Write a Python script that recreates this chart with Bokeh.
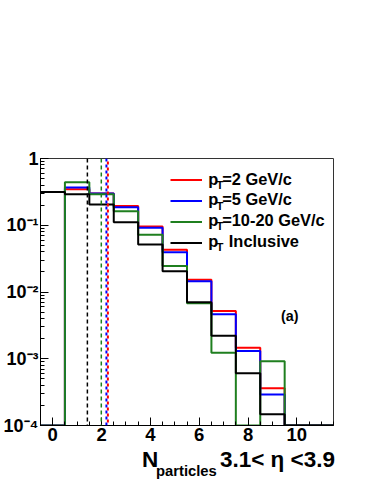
from bokeh.plotting import figure
from bokeh.models import (Range1d, Span, Label, Legend, LegendItem, SingleIntervalTicker,
                          LinearAxis, FixedTicker)
from bokeh.embed import file_html
from bokeh.resources import INLINE

# ---------------- data ----------------
bin_centers = [0, 1, 2, 3, 4, 5, 6, 7, 8, 9, 10, 11]
pt2 = [0, 0.347, 0.298, 0.195, 0.096, 0.0428, 0.0152, 0.0052, 0.00146, 0.00036, 0, 0]
pt5 = [0, 0.368, 0.298, 0.186, 0.092, 0.0394, 0.0145, 0.00463, 0.00131, 0.000292, 0, 0]
pt10_20 = [0, 0.44, 0.291, 0.162, 0.072, 0.0246, 0.0068, 0.00123, 0, 0.000914, 0, 0]
pt_incl = [0.316, 0.291, 0.204, 0.111, 0.0516, 0.0204, 0.0070, 0.00221, 0.000605, 0.000148, 0, 0]
mean_pt2, mean_pt5, mean_pt10_20, mean_incl = 2.26, 2.20, 1.99, 1.42
legend_labels = ["=2 GeV/c", "=5 GeV/c", "=10-20 GeV/c", "Inclusive"]
y_tick_labels = {1e-4: "10\u207b\u2074", 1e-3: "10\u207b\u00b3", 1e-2: "10\u207b\u00b2", 1e-1: "10\u207b\u00b9", 1: "1"}
title_main = ["N", "3.1< \u03b7 <3.9"]
title_sub = "particles"

YMIN, YMAX = 1e-4, 1.0
XMIN, XMAX = -0.5, 11.5

FONT = "Liberation Sans"
K = 1 / 0.977          # page-to-design factor
W = 353
FLc, FTc, FWc, FHc = 35, 158, 298, 267   # frame in canvas pixels
BOTTOM = 62
HM = FTc + FHc + BOTTOM
FL, FB = FLc + 8, FTc + FHc + 8          # frame left / bottom in page pixels

p = figure(width=W, height=HM, output_backend="svg", toolbar_location=None, title=None,
           x_range=Range1d(XMIN, XMAX), y_range=Range1d(YMIN, YMAX), y_axis_type="log",
           min_border_left=FLc, min_border_right=W - FLc - FWc,
           min_border_top=FTc, min_border_bottom=BOTTOM)
p.xgrid.visible = False
p.ygrid.visible = False
p.outline_line_color = "#333333"
p.outline_line_width = 1
p.background_fill_color = "white"
p.border_fill_color = "white"

xa = p.xaxis[0]
xa.ticker = SingleIntervalTicker(interval=2, num_minor_ticks=4)
xa.major_tick_in = 8
xa.major_tick_out = 0
xa.minor_tick_in = 4
xa.minor_tick_out = 0
xa.axis_line_color = "black"
xa.major_label_text_font = FONT
xa.major_label_text_font_style = "bold"
xa.major_label_text_font_size = "18.5px"
xa.major_label_standoff = 2
xa.major_label_text_color = "black"

ya = p.yaxis[0]
ya.ticker.num_minor_ticks = 10
ya.ticker.desired_num_ticks = 5
ya.major_tick_in = 8
ya.major_tick_out = 0
ya.minor_tick_in = 4
ya.minor_tick_out = 0
ya.axis_line_color = "black"
ya.major_label_overrides = y_tick_labels
ya.major_label_text_font = FONT
ya.major_label_text_font_style = "bold"
ya.major_label_text_font_size = "18px"
ya.major_label_standoff = 2
ya.major_label_text_color = "black"

# histogram outlines
edges = [c - 0.5 for c in bin_centers] + [bin_centers[-1] + 0.5]

def outline(vals):
    v = [max(a, YMIN) for a in vals]
    return v + [v[-1]]

RED, BLUE, GREEN, BLACK = "#ff0000", "#0000ff", "#1f7f1f", "#000000"
series = [(pt2, RED), (pt5, BLUE), (pt10_20, GREEN), (pt_incl, BLACK)]
rends = [p.step(edges, outline(vals), mode="after", line_color=c, line_width=2) for vals, c in series]

# mean lines
p.add_layout(Span(location=mean_incl, dimension="height", line_color=BLACK, line_width=1.5, line_dash="4 3"))
p.add_layout(Span(location=mean_pt10_20, dimension="height", line_color=GREEN, line_width=1.5, line_dash="4 3"))
p.add_layout(Span(location=mean_pt5, dimension="height", line_color=BLUE, line_width=2, line_dash="3 3"))
p.add_layout(Span(location=mean_pt2, dimension="height", line_color=RED, line_width=2, line_dash="3 3", line_dash_offset=3))

# legend glyphs (text drawn with labels)
legend = Legend(items=[LegendItem(label=" ", renderers=[r]) for r in rends],
                location=(round(169 * K) - FL, FB - round(173 * K + 84)), glyph_width=32, glyph_height=21,
                label_height=21, label_width=1, label_standoff=0, spacing=0, padding=0, margin=0,
                border_line_color=None, background_fill_alpha=0, label_text_font_size="1px")
p.add_layout(legend, "center")

def plab(px, py, s, size):
    # px, py: reference picture pixels; screen units are relative to the frame's bottom-left
    p.add_layout(Label(x=px * K - FL, y=FB - py * K, x_units="screen", y_units="screen", text=s,
                       text_font=FONT, text_font_style="bold", text_font_size=size,
                       text_color="black", text_align="left", text_baseline="alphabetic"))

for i, s in enumerate(legend_labels):
    base = 182 + 20.2 * i
    plab(206, base, "p", "16.4px")
    plab(214, base + 6, "T", "11.3px")
    plab(226 if s == "Inclusive" else 219.5, base, s, "16.4px")

plab(277, 316, "(a)", "14.3px")

# x-axis title: extra label-only axes stacked below the main x axis
def px_to_x(px):
    # reference picture pixel -> data x (for text centres only)
    return round(XMIN + (px * K - FL) / FWc * (XMAX - XMIN), 3)

def text_axis(centers, texts, size, standoff):
    ticks = [px_to_x(c) for c in centers]
    ax = LinearAxis(ticker=FixedTicker(ticks=ticks, minor_ticks=[]),
                    major_label_overrides=dict(zip(ticks, texts)))
    ax.axis_line_color = None
    ax.major_tick_in = 0
    ax.major_tick_out = 0
    ax.minor_tick_in = 0
    ax.minor_tick_out = 0
    ax.major_label_text_font = FONT
    ax.major_label_text_font_style = "bold"
    ax.major_label_text_font_size = size
    ax.major_label_text_color = "black"
    ax.major_label_standoff = standoff
    p.add_layout(ax, "below")

text_axis([151, 277.5], title_main, "22.5px", 3)
text_axis([187], [title_sub], "14.8px", -12)

open("out.html", "w").write(file_html(p, INLINE))
